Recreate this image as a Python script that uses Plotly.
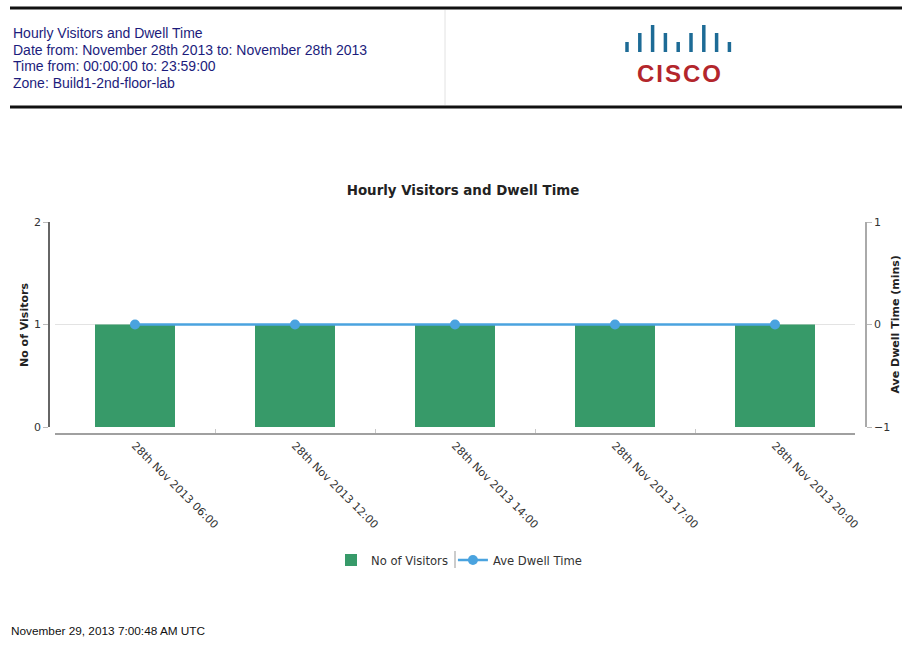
import plotly.graph_objects as go

# ---- data ----
hours = ["28th Nov 2013 06:00", "28th Nov 2013 12:00", "28th Nov 2013 14:00",
         "28th Nov 2013 17:00", "28th Nov 2013 20:00"]
visitors = [1, 1, 1, 1, 1]
dwell_mins = [0, 0, 0, 0, 0]

header_lines = [
    "Hourly Visitors and Dwell Time",
    "Date from: November 28th 2013 to: November 28th 2013",
    "Time from: 00:00:00 to: 23:59:00",
    "Zone: Build1-2nd-floor-lab",
]
footer_text = "November 29, 2013 7:00:48 AM UTC"
chart_title = "Hourly Visitors and Dwell Time"

# ---- page geometry (pixels) ----
W, H = 902, 666
ML, MR, MT, MB = 49, 36, 222, 232
PW, PH = W - ML - MR, H - MT - MB


def px(x):
    return (x - ML) / PW


def py(y):
    return (H - MB - y) / PH


FONT = "DejaVu Sans"
BAR_GREEN = "#379a69"
LINE_BLUE = "#4aa3df"

fig = go.Figure()
fig.add_trace(go.Bar(
    x=hours, y=visitors, name="No of Visitors",
    marker=dict(color=BAR_GREEN, line=dict(width=0)),
    width=0.5, yaxis="y",
))
fig.add_trace(go.Scatter(
    x=hours, y=dwell_mins, name="Ave Dwell Time", mode="lines+markers",
    line=dict(color=LINE_BLUE, width=2.5),
    marker=dict(color=LINE_BLUE, size=10),
    yaxis="y2",
))

shapes = [
    # header rules
    dict(type="line", xref="paper", yref="paper", x0=px(10), x1=px(905), y0=py(8), y1=py(8),
         line=dict(color="#111", width=3)),
    dict(type="line", xref="paper", yref="paper", x0=px(10), x1=px(905), y0=py(107), y1=py(107),
         line=dict(color="#111", width=3)),
    dict(type="line", xref="paper", yref="paper", x0=px(445), x1=px(445), y0=py(10), y1=py(105),
         line=dict(color="#e2e2e2", width=1)),
    # legend separator
    dict(type="line", xref="paper", yref="paper", x0=px(455), x1=px(455), y0=py(551), y1=py(568),
         line=dict(color="#999", width=1)),
]

# logo bars
logo_heights = [10, 19, 27, 19, 10, 19, 27, 19, 10]
for i, hgt in enumerate(logo_heights):
    x = 627 + i * 12.8
    shapes.append(dict(type="line", xref="paper", yref="paper", x0=px(x), x1=px(x),
                       y0=py(52), y1=py(52 - hgt), line=dict(color="#1d6b96", width=3.5)))

annotations = []
for i, line in enumerate(header_lines):
    annotations.append(dict(
        text=line, xref="paper", yref="paper", x=px(11), y=py(33 + i * 16.7),
        xanchor="left", yanchor="middle", align="left", showarrow=False,
        font=dict(family="Liberation Sans", size=14, color="#1c1c7c")))

annotations += [
    dict(text="<b>C\u200aI\u200aS\u200aC\u200aO</b>", xref="paper", yref="paper",
         x=px(679), y=py(73), xanchor="center", yanchor="middle", showarrow=False,
         font=dict(family="Liberation Sans", size=24, color="#b3262c")),
    dict(text="<b>No of Visitors</b>", xref="paper", yref="paper", x=px(24), y=py(325),
         textangle=-90, showarrow=False, xanchor="center", yanchor="middle",
         font=dict(family=FONT, size=11, color="#222")),
    dict(text="<b>Ave Dwell Time (mins)</b>", xref="paper", yref="paper", x=px(894.5), y=py(325),
         textangle=-90, showarrow=False, xanchor="center", yanchor="middle",
         font=dict(family=FONT, size=11, color="#222")),
    dict(text=footer_text, xref="paper", yref="paper", x=px(9), y=py(631),
         xanchor="left", yanchor="middle", showarrow=False,
         font=dict(family="Liberation Sans", size=11.8, color="#111")),
]

fig.update_layout(
    width=W, height=H,
    margin=dict(l=ML, r=MR, t=MT, b=MB, pad=0),
    paper_bgcolor="white", plot_bgcolor="white",
    font=dict(family=FONT, size=11, color="#333"),
    title=dict(text="<b>" + chart_title + "</b>", xref="paper", x=px(463), xanchor="center",
               y=1 - 190 / H, yanchor="middle", font=dict(family=FONT, size=13.4, color="#222")),
    showlegend=True,
    legend=dict(orientation="h", x=px(459), xanchor="center", y=py(560), yanchor="middle",
                font=dict(family=FONT, size=11.6, color="#333"), itemwidth=30,
                bgcolor="rgba(0,0,0,0)"),
    bargap=0.5,
    xaxis=dict(
        domain=[px(55), px(855)], range=[-0.5, 4.5], anchor="free", position=0,
        type="category", showline=True, linecolor="#a0a0a0", linewidth=2,
        ticks="inside", ticklen=4, tickcolor="#c8c8c8", tickson="boundaries",
        tickangle=45, showgrid=False, tickfont=dict(size=11, color="#333"),
    ),
    yaxis=dict(
        domain=[py(427), py(222)], range=[0, 2], dtick=1, anchor="free", position=0,
        showline=True, linecolor="#666", linewidth=1.5,
        ticks="outside", ticklen=5, tickcolor="#bbb",
        showgrid=True, gridcolor="#e3e3e3", gridwidth=1, zeroline=False,
        tickfont=dict(size=11, color="#333"),
    ),
    yaxis2=dict(
        domain=[py(427), py(222)], range=[-1, 1], dtick=1, anchor="free", position=1,
        overlaying="y", side="right",
        showline=True, linecolor="#aaa", linewidth=1.5,
        ticks="outside", ticklen=5, tickcolor="#bbb",
        showgrid=False, zeroline=False,
        tickfont=dict(size=11, color="#333"),
    ),
    shapes=shapes,
    annotations=annotations,
)

fig.write_html("out.html")
